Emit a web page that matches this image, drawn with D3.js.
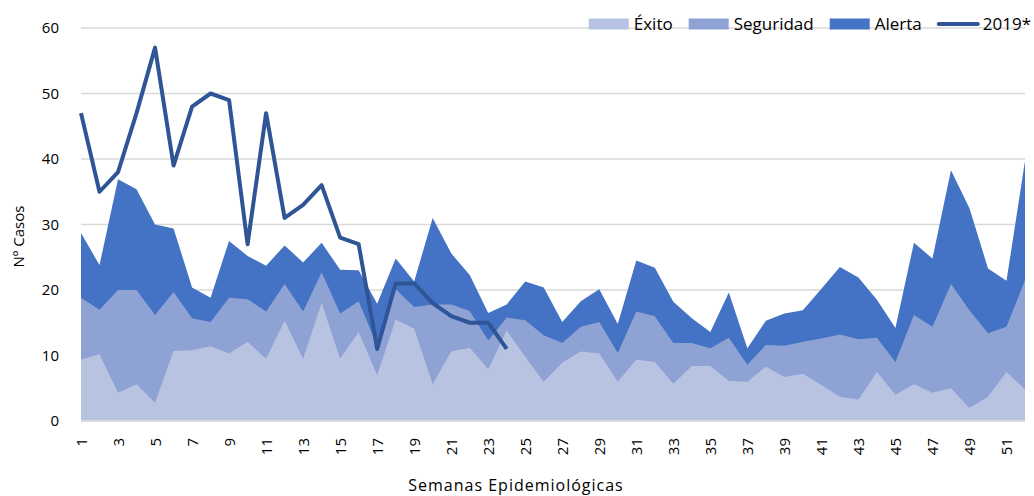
<!DOCTYPE html>
<html>
<head>
<meta charset="utf-8">
<script src="https://cdn.jsdelivr.net/npm/d3@7"></script>
<style>
  body { margin: 0; background: #fff; }
  text { font-family: "Open Sans", "Liberation Sans", sans-serif; fill: #000; }
  .axis path, .axis line { display: none; }
</style>
</head>
<body>
<div id="chart"></div>
<script>
// Data
const semanas = d3.range(1, 53)
const exito = [9.4, 10.2, 4.3, 5.6, 2.8, 10.7, 10.8, 11.4, 10.3, 12.1, 9.5, 15.3, 9.5, 18.0, 9.5, 13.6, 7.0, 15.5, 14.1, 5.6, 10.6, 11.2, 7.9, 13.8, 9.8, 6.0, 8.9, 10.6, 10.3, 6.0, 9.4, 9.0, 5.7, 8.4, 8.4, 6.1, 6.0, 8.3, 6.7, 7.2, 5.5, 3.7, 3.3, 7.5, 4.0, 5.6, 4.3, 5.0, 2.0, 3.7, 7.5, 4.8]
const seguridad = [18.8, 17.0, 20.0, 20.0, 16.2, 19.7, 15.7, 15.1, 18.8, 18.6, 16.7, 20.9, 16.7, 22.7, 16.4, 18.3, 11.5, 20.1, 17.4, 17.8, 17.8, 16.8, 12.3, 15.8, 15.4, 13.1, 11.9, 14.4, 15.1, 10.4, 16.7, 16.0, 11.9, 11.9, 11.1, 12.7, 8.6, 11.6, 11.5, 12.1, 12.6, 13.2, 12.5, 12.7, 9.0, 16.2, 14.4, 20.9, 16.9, 13.4, 14.4, 21.5]
const alerta = [28.7, 23.8, 36.9, 35.4, 30.0, 29.4, 20.4, 18.8, 27.5, 25.2, 23.7, 26.8, 24.2, 27.2, 23.1, 23.0, 17.9, 24.8, 21.3, 31.0, 25.6, 22.3, 16.5, 17.8, 21.3, 20.4, 15.1, 18.3, 20.1, 14.8, 24.5, 23.4, 18.2, 15.7, 13.6, 19.6, 11.1, 15.3, 16.4, 16.9, 20.2, 23.5, 21.9, 18.5, 14.2, 27.2, 24.8, 38.3, 32.5, 23.3, 21.4, 39.7]
const casos2019 = [47, 35, 38, 47, 57, 39, 48, 50, 49, 27, 47, 31, 33, 36, 28, 27, 11, 21, 21, 18, 16, 15, 15, 11]
const yTicks = [0, 10, 20, 30, 40, 50, 60]

// Dimensions
const dimensions = {
  width: 1034,
  height: 496,
  margins: { left: 81, right: 9, top: 28, bottom: 75 },
}
const ctrW = dimensions.width - dimensions.margins.left - dimensions.margins.right
const ctrH = dimensions.height - dimensions.margins.top - dimensions.margins.bottom

// Scales
const xScale = d3.scaleLinear().domain([1, 52]).range([0, ctrW])
const yScale = d3.scaleLinear().domain([0, 60]).range([ctrH, 0])

const svg = d3
  .select('#chart')
  .append('svg')
  .attr('width', dimensions.width)
  .attr('height', dimensions.height)

const ctr = svg.append('g').attr('transform', `translate(${dimensions.margins.left}, ${dimensions.margins.top})`)

// gridlines
ctr
  .selectAll('line.grid')
  .data(yTicks)
  .join('line')
  .attr('class', 'grid')
  .attr('x1', 0)
  .attr('x2', ctrW)
  .attr('y1', (d) => yScale(d))
  .attr('y2', (d) => yScale(d))
  .style('stroke', '#d9d9d9')
  .style('stroke-width', 1.5)

// areas (each drawn from zero, biggest first)
const series = [
  { name: 'Alerta', values: alerta, color: '#4472c4' },
  { name: 'Seguridad', values: seguridad, color: '#8fa2d4' },
  { name: 'Éxito', values: exito, color: '#b8c3e2' },
]
const area = d3
  .area()
  .x((d, i) => xScale(semanas[i]))
  .y0(yScale(0))
  .y1((d) => yScale(d))

ctr
  .selectAll('path.area')
  .data(series)
  .join('path')
  .attr('class', 'area')
  .attr('d', (d) => area(d.values))
  .style('fill', (d) => d.color)

// baseline
ctr
  .append('line')
  .attr('x1', 0)
  .attr('x2', ctrW)
  .attr('y1', yScale(0))
  .attr('y2', yScale(0))
  .style('stroke', '#d9d9d9')
  .style('stroke-width', 2)

// 2019 line
const line = d3
  .line()
  .x((d, i) => xScale(semanas[i]))
  .y((d) => yScale(d))
ctr
  .append('path')
  .attr('d', line(casos2019))
  .style('fill', 'none')
  .style('stroke', '#2f5597')
  .style('stroke-width', 4)
  .style('stroke-linejoin', 'round')

// Axes
const yAxis = d3.axisLeft(yScale).tickValues(yTicks).tickSize(0).tickPadding(22)
const yAxisGroup = ctr.append('g').call(yAxis).classed('axis', true)
yAxisGroup.selectAll('text').style('font-size', '15px')

const xAxis = d3
  .axisBottom(xScale)
  .tickValues(semanas.filter((d) => d % 2 === 1))
  .tickSize(0)
  .tickFormat(d3.format('d'))
const xAxisGroup = ctr.append('g').call(xAxis).attr('transform', `translate(0, ${ctrH})`).classed('axis', true)
xAxisGroup
  .selectAll('text')
  .style('font-size', '15px')
  .attr('transform', 'rotate(-90)')
  .attr('x', -17)
  .attr('y', 0)
  .attr('dy', '0.35em')
  .style('text-anchor', 'end')

// axis titles
svg
  .append('text')
  .attr('x', 516)
  .attr('y', 491)
  .style('text-anchor', 'middle')
  .style('font-size', '16px')
  .style('letter-spacing', '1px')
  .text('Semanas Epidemiológicas')

svg
  .append('text')
  .attr('transform', `translate(24, ${yScale(30) + dimensions.margins.top + 12}) rotate(-90)`)
  .style('text-anchor', 'middle')
  .style('font-size', '15px')
  .text('Nº Casos')

// Legend
const legendItems = [
  { name: 'Éxito', color: '#b8c3e2', type: 'rect' },
  { name: 'Seguridad', color: '#8fa2d4', type: 'rect' },
  { name: 'Alerta', color: '#4472c4', type: 'rect' },
  { name: '2019*', color: '#2f5597', type: 'line' },
]
const legend = svg.append('g').attr('transform', 'translate(0, 24)')
const groups = legend
  .selectAll('g')
  .data(legendItems)
  .join('g')
groups
  .append('text')
  .attr('x', 45)
  .attr('dy', '0.35em')
  .style('font-size', '17px')
  .text((d) => d.name)
groups.each(function (d) {
  const g = d3.select(this)
  if (d.type === 'rect') {
    g.append('rect').attr('x', 0).attr('y', -5.5).attr('width', 40).attr('height', 11).style('fill', d.color)
  } else {
    g.append('line')
      .attr('x1', 1)
      .attr('x2', 40)
      .style('stroke', d.color)
      .style('stroke-width', 4)
      .style('stroke-linecap', 'round')
  }
  d.w = 45 + g.select('text').node().getComputedTextLength()
})
let xPos = 1031
for (let i = legendItems.length - 1; i >= 0; i--) {
  xPos -= legendItems[i].w
  legendItems[i].x = xPos
  xPos -= 16
}
groups.attr('transform', (d) => `translate(${d.x}, 0)`)
</script>
</body>
</html>
